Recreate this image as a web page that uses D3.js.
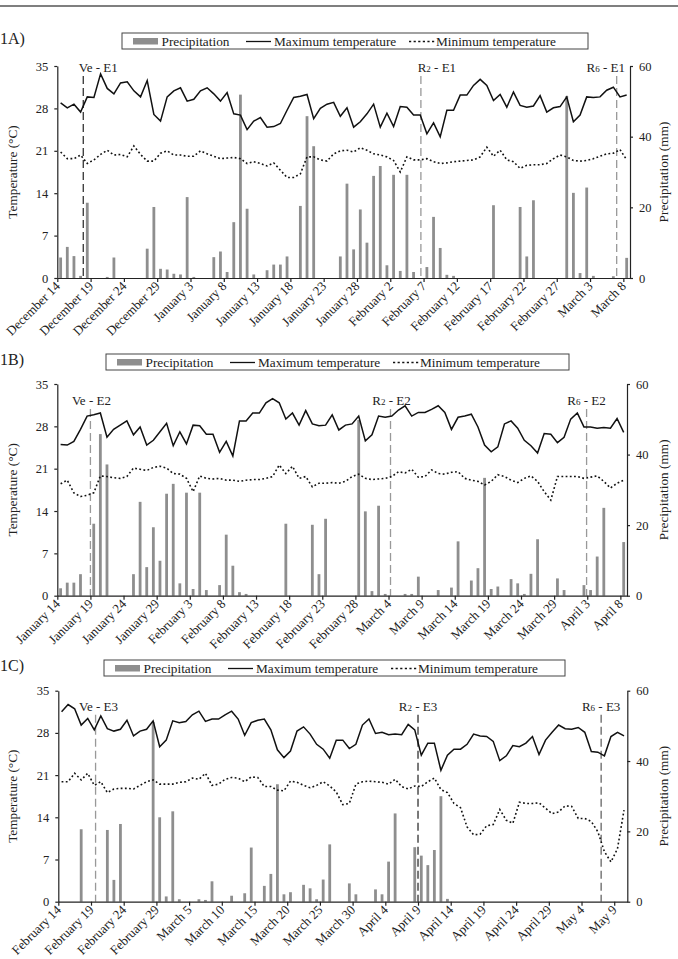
<!DOCTYPE html>
<html>
<head>
<meta charset="utf-8">
<script src="https://cdn.jsdelivr.net/npm/d3@7"></script>
<style>
  body { margin: 0; background: #fff; }
  text { font-family: "Liberation Serif", "Times New Roman", serif; fill: #222; }
</style>
</head>
<body>
<svg></svg>
<script>
// data
const legendItems = ['Precipitation', 'Maximum temperature', 'Minimum temperature'];
const tempTicks = [0, 7, 14, 21, 28, 35];
const precipTicks = [0, 20, 40, 60];

// 1A : December 14 -> March 8
const startA = '2015-12-14';
const precipA = [5.8, 8.8, 6.2, 0.6, 21.3, 0, 0, 0.3, 5.8, 0,
  0, 0, 0, 8.3, 20.1, 2.6, 2.4, 1.2, 1.0, 22.9,
  0.3, 0, 0, 5.9, 7.5, 1.7, 15.8, 51.9, 19.6, 1.0,
  0, 2.2, 3.8, 3.8, 6.1, 0, 20.4, 45.8, 37.3, 0,
  0, 0, 6.1, 26.7, 8.1, 19.4, 10.0, 28.9, 31.7, 3.6,
  29.2, 2.0, 29.2, 1.7, 0, 3.1, 17.3, 8.5, 0.9, 0.6,
  0, 0, 0, 0, 0, 20.6, 0, 0, 0, 20.1,
  6.1, 22.0, 0, 0, 0, 0, 51.5, 24.1, 1.4, 25.6,
  0.6, 0, 0, 0.5, 0, 5.7];
const tmaxA = [28.9, 28.1, 28.7, 27.4, 29.9, 29.8, 33.7, 31.3, 30.4, 32.2,
  32.4, 30.9, 29.9, 32.6, 27.0, 25.9, 29.9, 30.9, 31.4, 29.2,
  29.5, 30.9, 31.4, 30.4, 29.2, 30.6, 27.1, 26.9, 24.5, 25.9,
  26.5, 24.9, 25.0, 25.5, 27.7, 29.8, 30.0, 30.3, 26.3, 28.0,
  28.7, 29.0, 26.7, 28.1, 24.9, 25.8, 27.1, 28.7, 24.9, 27.2,
  25.0, 28.3, 28.2, 26.9, 26.9, 23.8, 25.6, 23.3, 27.7, 27.7,
  30.2, 30.2, 31.8, 32.8, 31.8, 29.3, 30.3, 28.2, 30.7, 28.5,
  28.2, 28.4, 30.1, 27.4, 28.1, 28.3, 29.9, 25.8, 26.9, 29.9,
  29.8, 29.9, 31.0, 31.5, 29.9, 30.2];
const tminA = [20.8, 19.7, 19.7, 20.3, 18.9, 19.5, 20.4, 21.1, 20.3, 20.4,
  20.0, 21.8, 20.4, 19.3, 19.3, 20.6, 21.0, 20.3, 20.3, 20.1,
  20.1, 21.0, 20.5, 20.1, 19.7, 19.8, 19.9, 19.7, 18.9, 19.2,
  18.9, 18.5, 19.0, 17.8, 16.6, 16.6, 17.2, 20.0, 20.0, 19.5,
  19.3, 20.5, 21.0, 21.1, 20.8, 21.5, 21.1, 20.5, 20.3, 20.0,
  19.4, 17.5, 20.0, 19.5, 19.5, 19.7, 19.2, 18.9, 19.0, 19.2,
  19.3, 19.4, 19.5, 20.0, 21.6, 20.1, 21.1, 19.5, 19.2, 18.1,
  18.6, 18.7, 18.7, 18.9, 19.7, 20.3, 20.0, 19.4, 19.3, 19.4,
  19.7, 20.1, 20.5, 20.6, 21.2, 19.5];
const ticksA = ['December 14', 'December 19', 'December 24', 'December 29', 'January 3',
  'January 8', 'January 13', 'January 18', 'January 23', 'January 28', 'February 2',
  'February 7', 'February 12', 'February 17', 'February 22', 'February 27', 'March 3', 'March 8'];
const stagesA = [['Ve - E1', 3.9], ['R2 - E1', 54.6], ['R6 - E1', 84.0]];

// 1B : January 14 -> April 8
const startB = '2016-01-14';
const precipB = [2.1, 3.7, 3.7, 6.1, 0, 20.4, 45.8, 37.2, 0, 0,
  0, 6.1, 26.6, 8.1, 19.4, 9.9, 28.9, 31.7, 3.5, 29.2,
  1.9, 29.2, 1.6, 0, 3.0, 17.3, 8.5, 1.0, 0.5, 0,
  0, 0, 0, 0, 20.4, 0, 0, 0, 20.1, 6.1,
  21.8, 0, 0, 0, 0, 49.8, 23.9, 1.3, 25.5, 0.5,
  0, 0, 0.5, 0.5, 5.4, 0, 0, 1.6, 0, 2.3,
  15.4, 0, 4.3, 7.8, 33.4, 1.9, 2.6, 0, 4.7, 3.5,
  0.5, 6.2, 16.0, 0, 0, 4.9, 1.6, 0, 0, 3.0,
  1.6, 11.1, 24.9, 0, 0, 15.2];
const tmaxB = [25.0, 24.9, 25.5, 27.5, 29.7, 29.9, 30.2, 26.2, 27.5, 28.2,
  28.9, 26.6, 27.9, 24.9, 25.7, 27.1, 28.5, 24.8, 27.1, 25.1,
  28.2, 28.1, 26.7, 26.7, 23.7, 25.5, 23.1, 28.9, 28.9, 30.2,
  30.2, 31.9, 32.6, 31.9, 29.2, 30.2, 28.2, 30.6, 28.4, 28.1,
  28.2, 29.9, 27.4, 28.2, 28.4, 29.7, 25.6, 26.6, 29.7, 29.5,
  29.7, 30.7, 31.4, 29.7, 30.3, 30.3, 30.8, 31.4, 30.3, 27.5,
  29.5, 29.7, 30.0, 27.9, 24.9, 23.8, 24.6, 28.4, 28.9, 27.7,
  25.7, 24.8, 23.6, 26.8, 26.7, 25.3, 26.2, 29.2, 30.2, 27.9,
  27.9, 27.7, 27.8, 27.7, 29.3, 27.0];
const tminB = [18.5, 19.1, 17.0, 16.4, 16.6, 17.0, 19.8, 19.7, 19.5, 19.4,
  19.7, 21.1, 20.9, 20.7, 21.2, 21.4, 21.1, 20.2, 20.1, 19.4,
  17.2, 19.8, 19.4, 19.3, 19.4, 19.1, 19.1, 18.9, 19.1, 19.2,
  19.2, 19.4, 19.7, 21.6, 20.2, 21.4, 19.4, 19.7, 18.0, 18.6,
  18.6, 18.7, 18.6, 18.9, 19.7, 20.1, 19.4, 19.2, 19.3, 19.4,
  19.7, 20.5, 20.3, 20.9, 19.6, 19.7, 20.8, 20.2, 20.1, 20.4,
  20.5, 19.4, 19.1, 18.9, 18.3, 18.9, 20.0, 19.7, 19.1, 18.7,
  19.4, 19.8, 18.9, 17.2, 15.8, 19.7, 19.7, 19.7, 19.7, 19.4,
  19.6, 19.8, 18.9, 17.8, 18.6, 19.1];
const ticksB = ['January 14', 'January 19', 'January 24', 'January 29', 'February 3',
  'February 8', 'February 13', 'February 18', 'February 23', 'February 28', 'March 4',
  'March 9', 'March 14', 'March 19', 'March 24', 'March 29', 'April 3', 'April 8'];
const stagesB = [['Ve - E2', 5.0], ['R2 - E2', 50.3], ['R6 - E2', 79.9]];

// 1C : February 14 -> May 10
const startC = '2016-02-14';
const precipC = [0, 0, 0, 20.6, 0, 0, 0, 20.4, 6.2, 22.1,
  0, 0, 0, 0, 51.1, 24.0, 1.5, 25.7, 0.7, 0,
  0, 0.7, 0.5, 5.8, 0, 0, 1.7, 0, 2.4, 15.4,
  0, 4.5, 7.9, 33.4, 2.1, 2.7, 0, 4.8, 3.8, 0.7,
  6.3, 16.3, 0, 0, 5.2, 2.1, 0, 0, 3.5, 2.1,
  11.4, 25.1, 0, 0, 15.5, 13.1, 10.4, 14.7, 30.0, 0.8,
  0, 0, 0, 0, 0, 0, 0, 0, 0, 0,
  0, 0, 0, 0, 0, 0, 0, 0, 0, 0,
  0, 0, 0, 0, 0, 0, 0];
const tmaxC = [31.5, 32.7, 32.0, 29.3, 30.4, 28.5, 30.8, 28.7, 28.3, 28.6,
  30.1, 27.5, 28.3, 28.6, 30.0, 25.7, 26.8, 30.0, 29.7, 29.9,
  31.0, 31.6, 29.9, 30.3, 30.3, 31.0, 31.6, 30.3, 27.6, 29.7,
  30.1, 30.3, 28.5, 25.2, 23.9, 25.0, 28.3, 29.0, 27.8, 26.1,
  25.3, 23.8, 26.8, 26.8, 25.4, 26.1, 29.3, 30.3, 27.9, 28.1,
  27.7, 27.8, 27.7, 29.4, 28.5, 24.3, 26.3, 26.3, 21.8, 24.3,
  25.3, 25.3, 26.1, 27.8, 27.5, 27.4, 26.6, 23.4, 24.2, 25.9,
  25.7, 26.3, 27.4, 24.4, 26.8, 28.1, 29.3, 28.7, 28.6, 28.9,
  28.1, 24.9, 24.8, 24.2, 27.4, 28.1, 27.5];
const tminC = [19.9, 19.9, 21.3, 20.2, 21.3, 19.3, 19.9, 18.1, 18.7, 18.8,
  18.8, 18.7, 19.3, 19.9, 20.2, 19.5, 19.5, 19.5, 19.8, 19.9,
  20.5, 20.3, 21.3, 19.3, 19.5, 20.3, 20.6, 20.5, 19.9, 20.7,
  20.6, 19.1, 19.1, 18.5, 18.4, 20.0, 19.8, 19.3, 18.9, 19.3,
  19.9, 19.2, 18.2, 16.1, 16.3, 19.5, 19.9, 20.0, 19.9, 19.8,
  19.5, 20.3, 19.1, 18.7, 19.2, 19.1, 19.9, 20.5, 18.6, 18.1,
  16.3, 15.6, 12.4, 11.1, 11.2, 12.6, 12.8, 15.3, 13.5, 13.0,
  16.5, 16.3, 16.3, 16.4, 15.5, 14.6, 14.9, 15.9, 15.8, 13.8,
  13.8, 13.3, 11.6, 8.3, 6.6, 8.8, 15.2];
const ticksC = ['February 14', 'February 19', 'February 24', 'February 29', 'March 5',
  'March 10', 'March 15', 'March 20', 'March 25', 'March 30', 'April 4',
  'April 9', 'April 14', 'April 19', 'April 24', 'April 29', 'May 4', 'May 9'];
const stagesC = [['Ve - E3', 5.7], ['R2 - E3', 55.0], ['R6 - E3', 83.0]];

// layout
const width = 678;
const height = 959;
const serif = '"Liberation Serif", "Times New Roman", serif';

const panels = [
  { tag: '1A)', start: startA, precip: precipA, tmax: tmaxA, tmin: tminA, ticks: ticksA, stages: stagesA,
    top: 66, bottom: 278, left: 57.3, right: 630, tagY: 44, legX: 122, legY: 33, legW: 466,
    stageDy: 6, stageDx: [15, 16, -11], stageColor: ['#333', '#999', '#999'] },
  { tag: '1B)', start: startB, precip: precipB, tmax: tmaxB, tmin: tminB, ticks: ticksB, stages: stagesB,
    top: 384, bottom: 595.7, left: 57.3, right: 627, tagY: 365, legX: 106, legY: 354, legW: 463,
    stageDy: 21, stageDx: [1, 1, 0], stageColor: ['#999', '#999', '#999'] },
  { tag: '1C)', start: startC, precip: precipC, tmax: tmaxC, tmin: tminC, ticks: ticksC, stages: stagesC,
    top: 690.7, bottom: 901.7, left: 58.3, right: 627.3, tagY: 671, legX: 104, legY: 660, legW: 461,
    stageDy: 20, stageDx: [3, 0, 0], stageColor: ['#999', '#333', '#666'] }
];

const svg = d3.select('svg')
    .attr('width', width)
    .attr('height', height);

svg.append('rect')
    .attr('width', width)
    .attr('height', height)
    .attr('fill', '#fff');

// rule across the top of the figure
svg.append('line')
    .attr('x1', 0).attr('x2', width)
    .attr('y1', 6).attr('y2', 6)
    .attr('stroke', '#555')
    .attr('stroke-width', 1.6);

const parseDay = d3.utcParse('%Y-%m-%d');
const fmtDay = d3.utcFormat('%B %-d');

function stageLabel(sel, label) {
  // "R2 - E1" -> R with a small 2
  const m = label.match(/^R(\d)(.*)$/);
  if (m) {
    sel.append('tspan').text('R');
    sel.append('tspan').attr('font-size', 9).text(m[1]);
    sel.append('tspan').text(m[2]);
  } else {
    sel.text(label);
  }
}

panels.forEach(p => {
  const n = p.precip.length;
  const first = parseDay(p.start);
  const days = d3.utcDay.range(first, d3.utcDay.offset(first, n));
  const tickIdx = p.ticks.map(t => days.findIndex(d => fmtDay(d) === t));

  const xBand = d3.scaleBand().domain(d3.range(n)).range([p.left, p.right]);
  const xDay = d3.scaleLinear().domain([0, n]).range([p.left, p.right]);
  const yT = d3.scaleLinear().domain([0, 35]).range([p.bottom, p.top]);
  const yP = d3.scaleLinear().domain([0, 60]).range([p.bottom, p.top]);
  const cx = i => xBand(i) + xBand.bandwidth() / 2;

  const g = svg.append('g');

  // precipitation bars
  g.selectAll('rect.bar')
    .data(p.precip)
    .enter()
    .append('rect')
      .attr('class', 'bar')
      .attr('x', (d, i) => cx(i) - 1.4)
      .attr('width', 2.8)
      .attr('y', d => yP(d))
      .attr('height', d => yP(0) - yP(d))
      .attr('fill', '#8e8e8e');

  // phenological stages
  p.stages.forEach((s, k) => {
    const x = xDay(s[1]);
    g.append('line')
        .attr('x1', x).attr('x2', x)
        .attr('y1', p.top + p.stageDy + 4)
        .attr('y2', p.bottom)
        .attr('stroke', p.stageColor[k])
        .attr('stroke-width', 1.3)
        .attr('stroke-dasharray', '8,4');
    g.append('text')
        .attr('x', x + p.stageDx[k])
        .attr('y', p.top + p.stageDy)
        .attr('text-anchor', 'middle')
        .attr('font-size', 13)
        .call(stageLabel, s[0]);
  });

  // temperature lines
  const maxLine = d3.line().x((d, i) => cx(i)).y(d => yT(d));
  const minLine = d3.line().x((d, i) => cx(i)).y(d => yT(d));
  g.append('path')
      .datum(p.tmax)
      .attr('d', maxLine)
      .attr('fill', 'none')
      .attr('stroke', '#111')
      .attr('stroke-width', 1.5);
  g.append('path')
      .datum(p.tmin)
      .attr('d', minLine)
      .attr('fill', 'none')
      .attr('stroke', '#111')
      .attr('stroke-width', 1.6)
      .attr('stroke-dasharray', '1.8,2.4');

  // axes
  const xAxis = d3.axisBottom(xDay)
      .tickValues(tickIdx)
      .tickFormat((d, i) => p.ticks[i])
      .tickSize(4)
      .tickSizeOuter(0);
  const gx = g.append('g')
      .attr('transform', 'translate(0,' + p.bottom + ')')
      .call(xAxis)
      .attr('font-family', serif)
      .attr('font-size', 13);
  gx.selectAll('.tick text')
      .attr('text-anchor', 'end')
      .attr('dy', null)
      .attr('y', null)
      .attr('transform', 'translate(3,9) rotate(-45)');

  const gl = g.append('g')
      .attr('transform', 'translate(' + p.left + ',0)')
      .call(d3.axisLeft(yT).tickValues(tempTicks).tickSize(3).tickSizeOuter(0).tickPadding(6))
      .attr('font-family', serif)
      .attr('font-size', 12.5);

  const gr = g.append('g')
      .attr('transform', 'translate(' + p.right + ',0)')
      .call(d3.axisRight(yP).tickValues(precipTicks).tickSize(3).tickSizeOuter(0).tickPadding(6))
      .attr('font-family', serif)
      .attr('font-size', 12.5);

  [gx, gl, gr].forEach(a => {
    a.selectAll('path, line').attr('stroke', '#222').attr('stroke-width', 1.2);
  });

  // axis titles
  g.append('text')
      .attr('transform', 'translate(12,' + (p.top + p.bottom) / 2 + ') rotate(-90)')
      .attr('dy', '0.35em')
      .attr('text-anchor', 'middle')
      .attr('font-size', 13.3)
      .text('Temperature (\u00B0C)');
  g.append('text')
      .attr('transform', 'translate(663,' + (p.top + p.bottom) / 2 + ') rotate(-90)')
      .attr('dy', '0.35em')
      .attr('text-anchor', 'middle')
      .attr('font-size', 13.3)
      .text('Precipitation (mm)');

  // panel tag
  g.append('text')
      .attr('x', 0)
      .attr('y', p.tagY)
      .attr('font-size', 16)
      .text(p.tag);

  // legend
  const lg = g.append('g').attr('transform', 'translate(' + p.legX + ',' + p.legY + ')');
  lg.append('rect')
      .attr('width', p.legW)
      .attr('height', 16)
      .attr('fill', '#fff')
      .attr('stroke', '#444')
      .attr('stroke-width', 1);
  lg.append('rect')
      .attr('x', 11).attr('y', 5)
      .attr('width', 25).attr('height', 6.5)
      .attr('fill', '#8e8e8e');
  lg.append('line')
      .attr('x1', 124).attr('x2', 149)
      .attr('y1', 8.5).attr('y2', 8.5)
      .attr('stroke', '#111').attr('stroke-width', 1.3);
  lg.append('line')
      .attr('x1', 287).attr('x2', 313)
      .attr('y1', 8.5).attr('y2', 8.5)
      .attr('stroke', '#111').attr('stroke-width', 1.4)
      .attr('stroke-dasharray', '2.2,2.4');
  lg.selectAll('text.leg')
    .data(legendItems)
    .enter()
    .append('text')
      .attr('class', 'leg')
      .attr('x', (d, i) => [39.5, 152, 314][i])
      .attr('y', 12.8)
      .attr('font-size', 13.3)
      .text(d => d);
});
</script>
</body>
</html>
